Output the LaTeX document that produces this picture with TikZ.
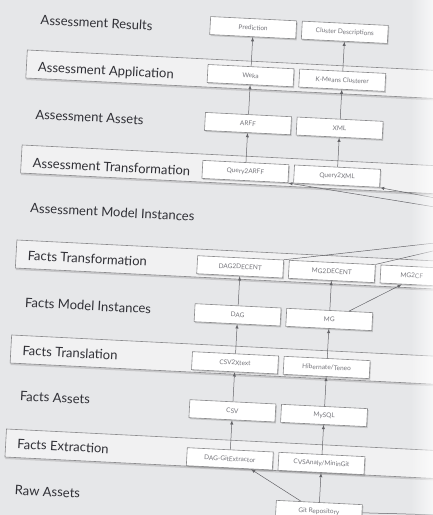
\documentclass[tikz,border=0pt]{standalone}
\usepackage{fontspec}
\setmainfont{Lato}
\usepackage{tikz}
\usetikzlibrary{shapes.geometric, arrows, positioning, calc, shadows, fadings}
\definecolor{bgColor}{RGB}{230,231,233}
\definecolor{bandColor}{RGB}{241,241,242}
\definecolor{edgeColor}{RGB}{138,138,140}
\definecolor{labelColor}{RGB}{48,48,54}
\definecolor{boxText}{RGB}{118,118,124}
\definecolor{lineColor}{RGB}{100,100,104}
\tikzstyle{band} = [draw=edgeColor, fill=bandColor, line width=0.6pt, drop shadow={opacity=0.3, shadow xshift=0.5pt, shadow yshift=-2pt}]
\tikzstyle{layer} = [anchor=west, inner sep=0pt, text=labelColor, font=\fontsize{13}{15}\selectfont]
\tikzstyle{artifact} = [rectangle, minimum width=86pt, minimum height=18pt, inner sep=1pt, draw=edgeColor, line width=0.6pt, fill=white, text=boxText, font=\fontsize{6.5}{8}\selectfont, drop shadow={opacity=0.35, shadow xshift=1pt, shadow yshift=-1.5pt}]
\tikzstyle{arrow} = [line width=0.5pt, ->, >=latex, lineColor]

\begin{document}
\begin{tikzpicture}[x=1pt, y=-1pt]
\useasboundingbox (0,0) rectangle (433,515);
\clip (0,0) rectangle (433,515);
\fill[bgColor] (0,0) rectangle (433,515);

\begin{scope}[cm={1,-0.05,0.055,1,(0,0)}, transform shape, node distance=29.33pt and 5pt]
    % layer bands
    \draw[band] (30,48.5) rectangle (640,76.5);
    \draw[band] (30,143.5) rectangle (640,171.5);
    \draw[band] (30,238.5) rectangle (640,266.5);
    \draw[band] (30,333.5) rectangle (640,361.5);
    \draw[band] (30,427.5) rectangle (640,455.5);

    % layer names
    \node (resLbl) [layer] at (41.5,18) {Assessment Results};
    \node (appLbl) [layer] at (41.5,66) {Assessment Application};
    \node (assLbl) [layer] at (41.5,112.5) {Assessment Assets};
    \node (trLbl) [layer] at (41.5,161) {Assessment Transformation};
    \node (amiLbl) [layer] at (41.5,206) {Assessment Model Instances};
    \node (ftrLbl) [layer] at (41.5,253.5) {Facts Transformation};
    \node (fmiLbl) [layer] at (41.5,300.5) {Facts Model Instances};
    \node (ftlLbl) [layer] at (41.5,348.5) {Facts Translation};
    \node (faLbl) [layer] at (41.5,394) {Facts Assets};
    \node (feLbl) [layer] at (41.5,442) {Facts Extraction};
    \node (raLbl) [layer] at (41.5,488) {Raw Assets};

    % artifacts
    \node (pred) [artifact] at (254,15) {Prediction};
    \node (clust) [artifact, right=of pred] {Cluster Descriptions};
    \node (weka) [artifact, below=of pred] {Weka};
    \node (kmeans) [artifact, right=of weka] {K-Means Clusterer};
    \node (arff) [artifact, below=of weka] {ARFF};
    \node (xml) [artifact, right=of arff] {XML};
    \node (qarff) [artifact, below=of arff] {Query2ARFF};
    \node (qxml) [artifact, right=of qarff] {Query2XML};
    \node (dagdec) [artifact, below=76.67pt of qarff] {DAG2DECENT};
    \node (mgdec) [artifact, right=of dagdec] {MG2DECENT};
    \node (mgcf) [artifact, right=of mgdec, text width=46pt, align=left] {MG2CF};
    \node (dag) [artifact, below=of dagdec] {DAG};
    \node (mg) [artifact, right=of dag] {MG};
    \node (csvx) [artifact, below=of dag] {CSV2Xtext};
    \node (teneo) [artifact, right=of csvx] {Hibernate/Teneo};
    \node (csv) [artifact, below=of csvx] {CSV};
    \node (mysql) [artifact, right=of csv] {MySQL};
    \node (dagext) [artifact, below=of csv] {DAG-GitExtractor};
    \node (cvsan) [artifact, right=of dagext] {CVSAnaly/MininGit};
    \node (gitrepo) [artifact, below=of cvsan] {Git Repository};

    % ends beyond the page edge
    \coordinate (amiA) at (537,195);
    \coordinate (amiB) at (587,195);
    \coordinate (decentIn) at (494,213);
    \coordinate (decentInB) at (500,213);
    \coordinate (gitOut) at (620,488);

    \draw [arrow] (weka) -- (pred);
    \draw [arrow] (kmeans) -- (clust);
    \draw [arrow] (arff) -- (weka);
    \draw [arrow] (xml) -- (kmeans);
    \draw [arrow] (qarff) -- (arff);
    \draw [arrow] (qxml) -- (xml);
    \draw [arrow] (amiA) -- (qarff.south east);
    \draw [arrow] (amiB) -- (qxml.south east);
    \draw [arrow] (dagdec.north east) -- (decentIn);
    \draw [arrow] (mgdec.north east) -- (decentInB);
    \draw [arrow] (dag) -- (dagdec);
    \draw [arrow] (mg) -- (mgdec);
    \draw [arrow] ($(mg.north)!0.44!(mg.north east)$) -- ($(mgcf.south)!0.49!(mgcf.south west)$);
    \draw [arrow] (csvx) -- (dag);
    \draw [arrow] (teneo) -- (mg);
    \draw [arrow] (csv) -- (csvx);
    \draw [arrow] (mysql) -- (teneo);
    \draw [arrow] (dagext) -- (csv);
    \draw [arrow] (cvsan) -- (mysql);
    \draw [arrow] ($(gitrepo.north)!0.42!(gitrepo.north west)$) -- ($(dagext.south)!0.5!(dagext.south east)$);
    \draw [arrow] (gitrepo) -- (cvsan);
    \draw [arrow] (gitrepo) -- (gitOut);
\end{scope}

% light on the page edge
\fill[white, path fading=west, opacity=0.7] (410,0) rectangle (433,515);
\end{tikzpicture}
\end{document}
